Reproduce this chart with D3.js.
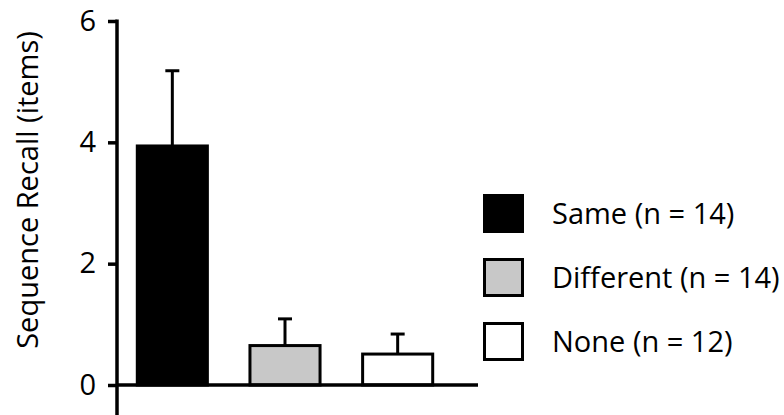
<!DOCTYPE html>
<html>
<head>
<meta charset="utf-8">
<script src="https://cdn.jsdelivr.net/npm/d3@7"></script>
<style>
  html, body { margin: 0; padding: 0; background: #fff; }
  svg { display: block; }
  text { font-family: "Open Sans", "Noto Sans", sans-serif; fill: #000; }
</style>
</head>
<body>
<svg id="chart" width="784" height="415"></svg>
<script>
const categories = ["Same", "Different", "None"];
const labels = ["Same (n = 14)", "Different (n = 14)", "None (n = 12)"];
const means = [3.94, 0.65, 0.51];
const errors = [1.24, 0.44, 0.33];
const fills = ["#000000", "#c8c8c8", "#ffffff"];
const yTicks = [0, 2, 4, 6];

const svg = d3.select("#chart");
const y = d3.scaleLinear().domain([0, 6]).range([385, 21]);
const x = d3.scaleBand().domain(categories).range([116, 454])
  .paddingInner(0.378).paddingOuter(0.189);

// bars
svg.append("g").selectAll("rect").data(categories).join("rect")
  .attr("x", d => x(d))
  .attr("y", (d, i) => y(means[i]))
  .attr("width", x.bandwidth())
  .attr("height", (d, i) => y(0) - y(means[i]))
  .attr("fill", (d, i) => fills[i])
  .attr("stroke", "#000").attr("stroke-width", 3);

// error bars
const eb = svg.append("g").attr("stroke", "#000").attr("stroke-width", 3);
categories.forEach((c, i) => {
  const cx = x(c) + x.bandwidth() / 2;
  eb.append("line").attr("x1", cx).attr("x2", cx)
    .attr("y1", y(means[i])).attr("y2", y(means[i] + errors[i]));
  eb.append("line").attr("x1", cx - 7).attr("x2", cx + 7)
    .attr("y1", y(means[i] + errors[i])).attr("y2", y(means[i] + errors[i]));
});

// x axis baseline
svg.append("line").attr("x1", 117).attr("x2", 478)
  .attr("y1", y(0)).attr("y2", y(0))
  .attr("stroke", "#000").attr("stroke-width", 3.5);

// y axis
const yAxis = d3.axisLeft(y).tickValues(yTicks).tickSize(9).tickPadding(12)
  .tickFormat(d3.format("d"));
const ga = svg.append("g").attr("transform", "translate(117,0)").call(yAxis);
ga.select(".domain").remove();
ga.selectAll(".tick line").attr("stroke", "#000").attr("stroke-width", 3.5);
ga.selectAll(".tick text").attr("font-size", 29)
  .style("font-family", "'Open Sans', sans-serif");
ga.append("line").attr("x1", 0).attr("x2", 0)
  .attr("y1", y(6) - 1.5).attr("y2", 415)
  .attr("stroke", "#000").attr("stroke-width", 3.5);

// y label
svg.append("text")
  .attr("transform", "translate(38,190) rotate(-90)")
  .attr("text-anchor", "middle")
  .attr("font-size", 29)
  .text("Sequence Recall (items)");

// legend
const lg = svg.append("g");
labels.forEach((l, i) => {
  const gy = 194 + i * 64;
  lg.append("rect").attr("x", 484.5).attr("y", gy + 1.5)
    .attr("width", 38).attr("height", 36)
    .attr("fill", fills[i]).attr("stroke", "#000").attr("stroke-width", 3);
  lg.append("text").attr("x", 552).attr("y", gy + 30)
    .attr("font-size", 29).text(l);
});
</script>
</body>
</html>
